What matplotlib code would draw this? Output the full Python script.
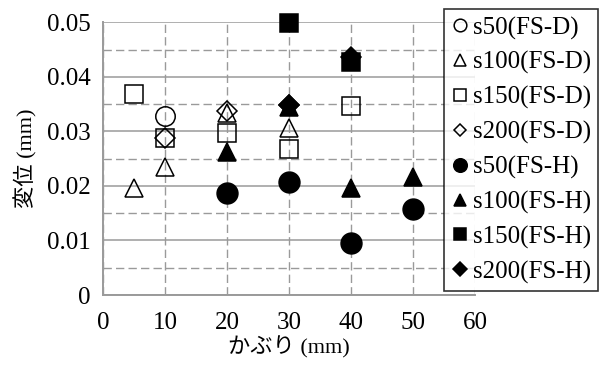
import numpy as np
import matplotlib
matplotlib.use('Agg')
import matplotlib.pyplot as plt

# cover depth (mm) and displacement (mm) per specimen series
labels = ['s50(FS-D)', 's100(FS-D)', 's150(FS-D)', 's200(FS-D)',
          's50(FS-H)', 's100(FS-H)', 's150(FS-H)', 's200(FS-H)']

s50_d_x = [10]
s50_d_y = [0.0328]
s100_d_x = [5, 10, 20, 30]
s100_d_y = [0.0196, 0.0235, 0.0333, 0.0306]
s150_d_x = [5, 10, 20, 30, 40]
s150_d_y = [0.0368, 0.0287, 0.0297, 0.0267, 0.0347]
s200_d_x = [10, 20, 30]
s200_d_y = [0.0287, 0.0338, 0.0348]
s50_h_x = [20, 30, 40, 50]
s50_h_y = [0.0187, 0.0207, 0.0096, 0.0157]
s100_h_x = [20, 30, 40, 50]
s100_h_y = [0.0262, 0.0344, 0.0196, 0.0217]
s150_h_x = [30, 40]
s150_h_y = [0.0498, 0.0428]
s200_h_x = [30, 40]
s200_h_y = [0.0349, 0.0436]

xs = [s50_d_x, s100_d_x, s150_d_x, s200_d_x, s50_h_x, s100_h_x, s150_h_x, s200_h_x]
ys = [s50_d_y, s100_d_y, s150_d_y, s200_d_y, s50_h_y, s100_h_y, s150_h_y, s200_h_y]
markers = ['o', '^', 's', 'D', 'o', '^', 's', 'D']
sizes = [14, 13, 13, 10, 15, 13, 13, 10.5]
filled = [False] * 4 + [True] * 4

serif = 'Liberation Serif'
plt.rcParams['font.family'] = [serif, 'Noto Sans CJK JP']

fig = plt.figure(figsize=(6.03, 3.65), dpi=100)
ax = fig.add_axes([103 / 603, 70 / 365, 372 / 603, 272.7 / 365])

for x, y, m, ms, f, lab in zip(xs, ys, markers, sizes, filled, labels):
    ax.plot(x, y, linestyle='none', marker=m, markersize=ms,
            markerfacecolor='black' if f else 'none',
            markeredgecolor='black', markeredgewidth=1.1,
            label=lab, clip_on=False, zorder=3)

ax.set_xlim(0, 60)
ax.set_ylim(0, 0.05)
ax.set_xticks(np.arange(0, 61, 10))
ax.set_xticklabels([str(v) for v in range(0, 61, 10)])
ax.set_yticks(np.arange(0, 0.051, 0.01))
ax.set_yticklabels(['0', '0.01', '0.02', '0.03', '0.04', '0.05'])
ax.set_yticks(np.arange(0.005, 0.05, 0.01), minor=True)
ax.tick_params(axis='both', which='both', length=0, labelsize=18)
ax.tick_params(axis='y', pad=9)
ax.tick_params(axis='x', pad=12)
for lbl in ax.get_xticklabels() + ax.get_yticklabels():
    lbl.set_fontfamily(serif)

grid_c = '#9a9a9a'
ax.grid(axis='y', which='major', color=grid_c, linewidth=1.1, linestyle='-')
ax.grid(axis='y', which='minor', color=grid_c, linewidth=1.0, linestyle=(0, (6, 3)))
ax.grid(axis='x', which='major', color=grid_c, linewidth=1.0, linestyle=(0, (6, 3)))
ax.set_axisbelow(True)

for side in ['top', 'right']:
    ax.spines[side].set_visible(False)
for side in ['left', 'bottom']:
    ax.spines[side].set_color(grid_c)
    ax.spines[side].set_linewidth(1.4)

ax.set_xlabel('かぶり (mm)', fontsize=16, labelpad=2)
ax.set_ylabel('変位 (mm)', fontsize=16, labelpad=7)

leg = fig.legend(loc='upper left', bbox_to_anchor=(444 / 603, 1 - 9 / 365),
                 bbox_transform=fig.transFigure, borderaxespad=0,
                 fontsize=18, markerscale=0.65, handlelength=0.7,
                 handletextpad=0.15, labelspacing=0.47, borderpad=0.3,
                 frameon=True, fancybox=False, edgecolor='black')
leg.get_frame().set_linewidth(1.2)

fig.savefig('out.png', dpi=100)
